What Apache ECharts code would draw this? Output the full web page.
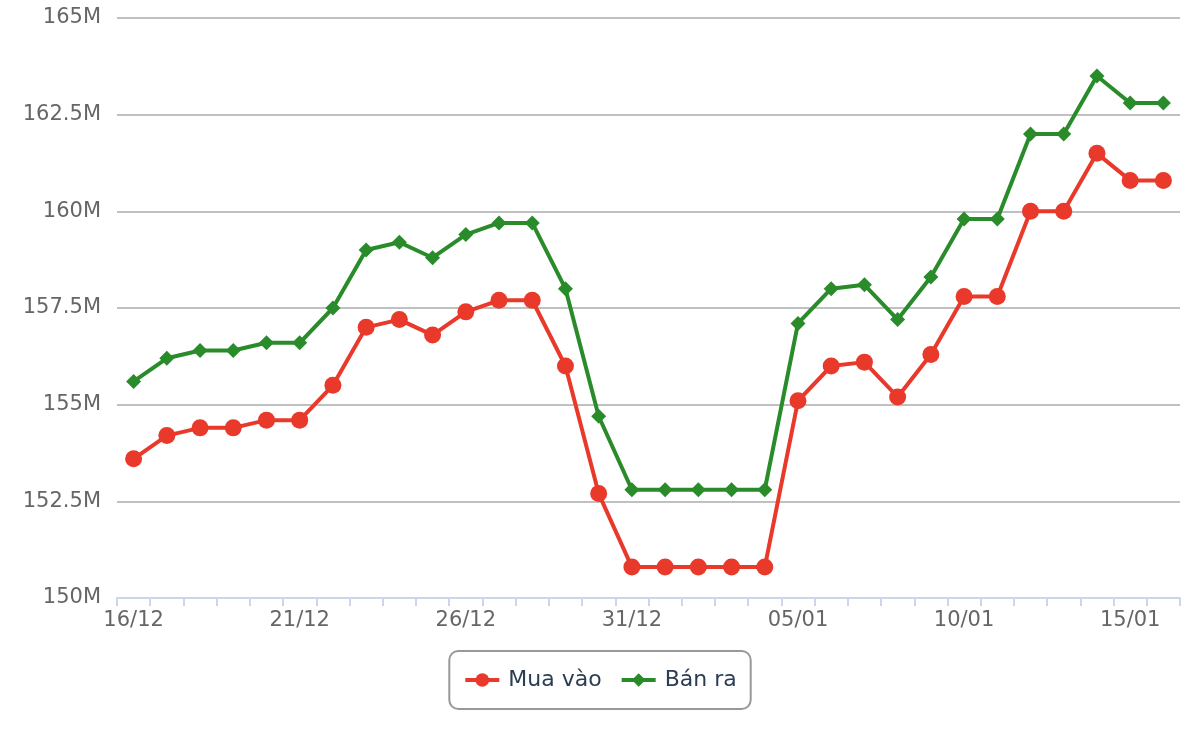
<!DOCTYPE html>
<html>
<head>
<meta charset="utf-8">
<script src="https://cdn.jsdelivr.net/npm/echarts@6/dist/echarts.min.js"></script>
<style>html,body{margin:0;padding:0;background:#fff;}#c{width:1200px;height:740px;}</style>
</head>
<body>
<div id="c"></div>
<script>
const categories = ['16/12','17/12','18/12','19/12','20/12','21/12','22/12','23/12','24/12','25/12','26/12','27/12','28/12','29/12','30/12','31/12','01/01','02/01','03/01','04/01','05/01','06/01','07/01','08/01','09/01','10/01','11/01','12/01','13/01','14/01','15/01','16/01'];
const muaVao = [153.6,154.2,154.4,154.4,154.6,154.6,155.5,157.0,157.2,156.8,157.4,157.7,157.7,156.0,152.7,150.8,150.8,150.8,150.8,150.8,155.1,156.0,156.1,155.2,156.3,157.8,157.8,160.0,160.0,161.5,160.8,160.8];
const banRa = [155.6,156.2,156.4,156.4,156.6,156.6,157.5,159.0,159.2,158.8,159.4,159.7,159.7,158.0,154.7,152.8,152.8,152.8,152.8,152.8,157.1,158.0,158.1,157.2,158.3,159.8,159.8,162.0,162.0,163.5,162.8,162.8];
const seriesNames = ['Mua vào','Bán ra'];
const yTicks = {min:150, max:165, interval:2.5};

const font = '"DejaVu Sans", sans-serif';
const chart = echarts.init(document.getElementById('c'));
chart.setOption({
  animation:false,
  grid:{left:117,right:20,top:18,bottom:142},
  legend:{
    bottom:31, left:'center',
    data:seriesNames,
    borderColor:'#999', borderWidth:2, borderRadius:9,
    padding:[18,14,18,14],
    itemWidth:34, itemHeight:17, itemGap:18,
    lineStyle:{width:4},
    textStyle:{fontFamily:font,fontSize:22,color:'#2b3d55',padding:[0,0,0,4]}
  },
  xAxis:{
    type:'category', data:categories, boundaryGap:true,
    axisLine:{lineStyle:{color:'#ccd6eb',width:2}},
    axisTick:{show:true,interval:0,length:8,lineStyle:{color:'#ccd6eb',width:2}},
    axisLabel:{interval:4,fontFamily:font,fontSize:21,color:'#666',margin:12}
  },
  yAxis:{
    type:'value', min:yTicks.min, max:yTicks.max, interval:yTicks.interval,
    axisLine:{show:false}, axisTick:{show:false},
    splitLine:{lineStyle:{color:'#c0c0c0',width:2}},
    axisLabel:{fontFamily:font,fontSize:21,color:'#666',margin:16,formatter:v=>v+'M'}
  },
  series:[
    {name:seriesNames[0],type:'line',data:muaVao,symbol:'circle',symbolSize:17,
     itemStyle:{color:'#e8392b'},lineStyle:{width:4,color:'#e8392b'}},
    {name:seriesNames[1],type:'line',data:banRa,symbol:'diamond',symbolSize:15,
     itemStyle:{color:'#2a8b2a'},lineStyle:{width:4,color:'#2a8b2a'}}
  ]
});
</script>
</body>
</html>
